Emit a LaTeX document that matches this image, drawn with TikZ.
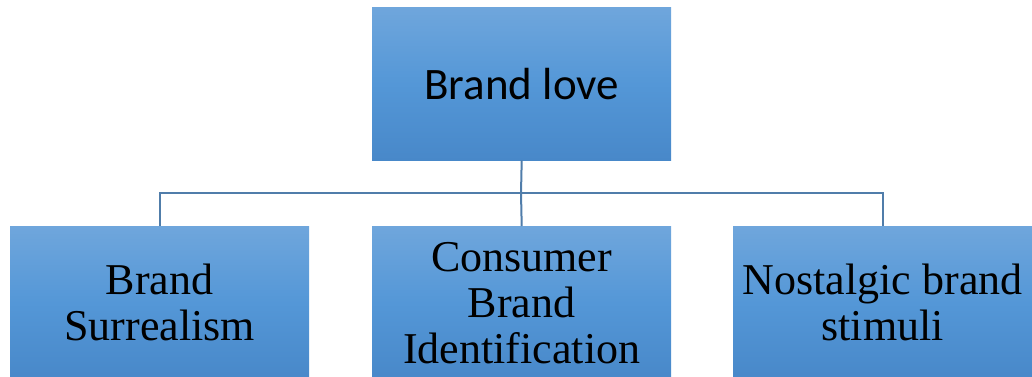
\documentclass[tikz,border=0pt]{standalone}
\usepackage{fontspec}
\setmainfont{Liberation Serif}
\newfontfamily\calibrifont{Carlito}
\definecolor{boxtop}{RGB}{111,166,220}
\definecolor{boxmid}{RGB}{84,151,215}
\definecolor{boxbot}{RGB}{72,136,201}
\definecolor{linkcol}{RGB}{80,125,170}
\begin{document}
\begin{tikzpicture}[x=1pt,y=-1pt,
  box/.style={rectangle, minimum width=299pt, minimum height=153pt, inner sep=0pt,
    top color=boxtop, bottom color=boxbot, middle color=boxmid, draw=none, align=center, anchor=north west},
  link/.style={draw=linkcol, line width=2pt},
  toptext/.style={font=\calibrifont\fontsize{45}{50}\selectfont},
  bottext/.style={font=\fontsize{44}{46}\selectfont}]
\useasboundingbox (0,0) rectangle (1032,376);
\node[box, toptext] (top) at (372,7) {Brand love};
\node[box, bottext] (left) at (10,226) {Brand\\Surrealism};
\node[box, bottext] (mid) at (372,226) {Consumer\\Brand\\Identification};
\node[box, bottext] (right) at (733,226) {Nostalgic brand\\stimuli};
\coordinate (bus) at (521,193);
\draw[link] (top.south) -- (bus);
\draw[link] (bus) -| (left.north);
\draw[link] (bus) -| (right.north);
\draw[link] (bus) -- (mid.north);
\end{tikzpicture}
\end{document}
